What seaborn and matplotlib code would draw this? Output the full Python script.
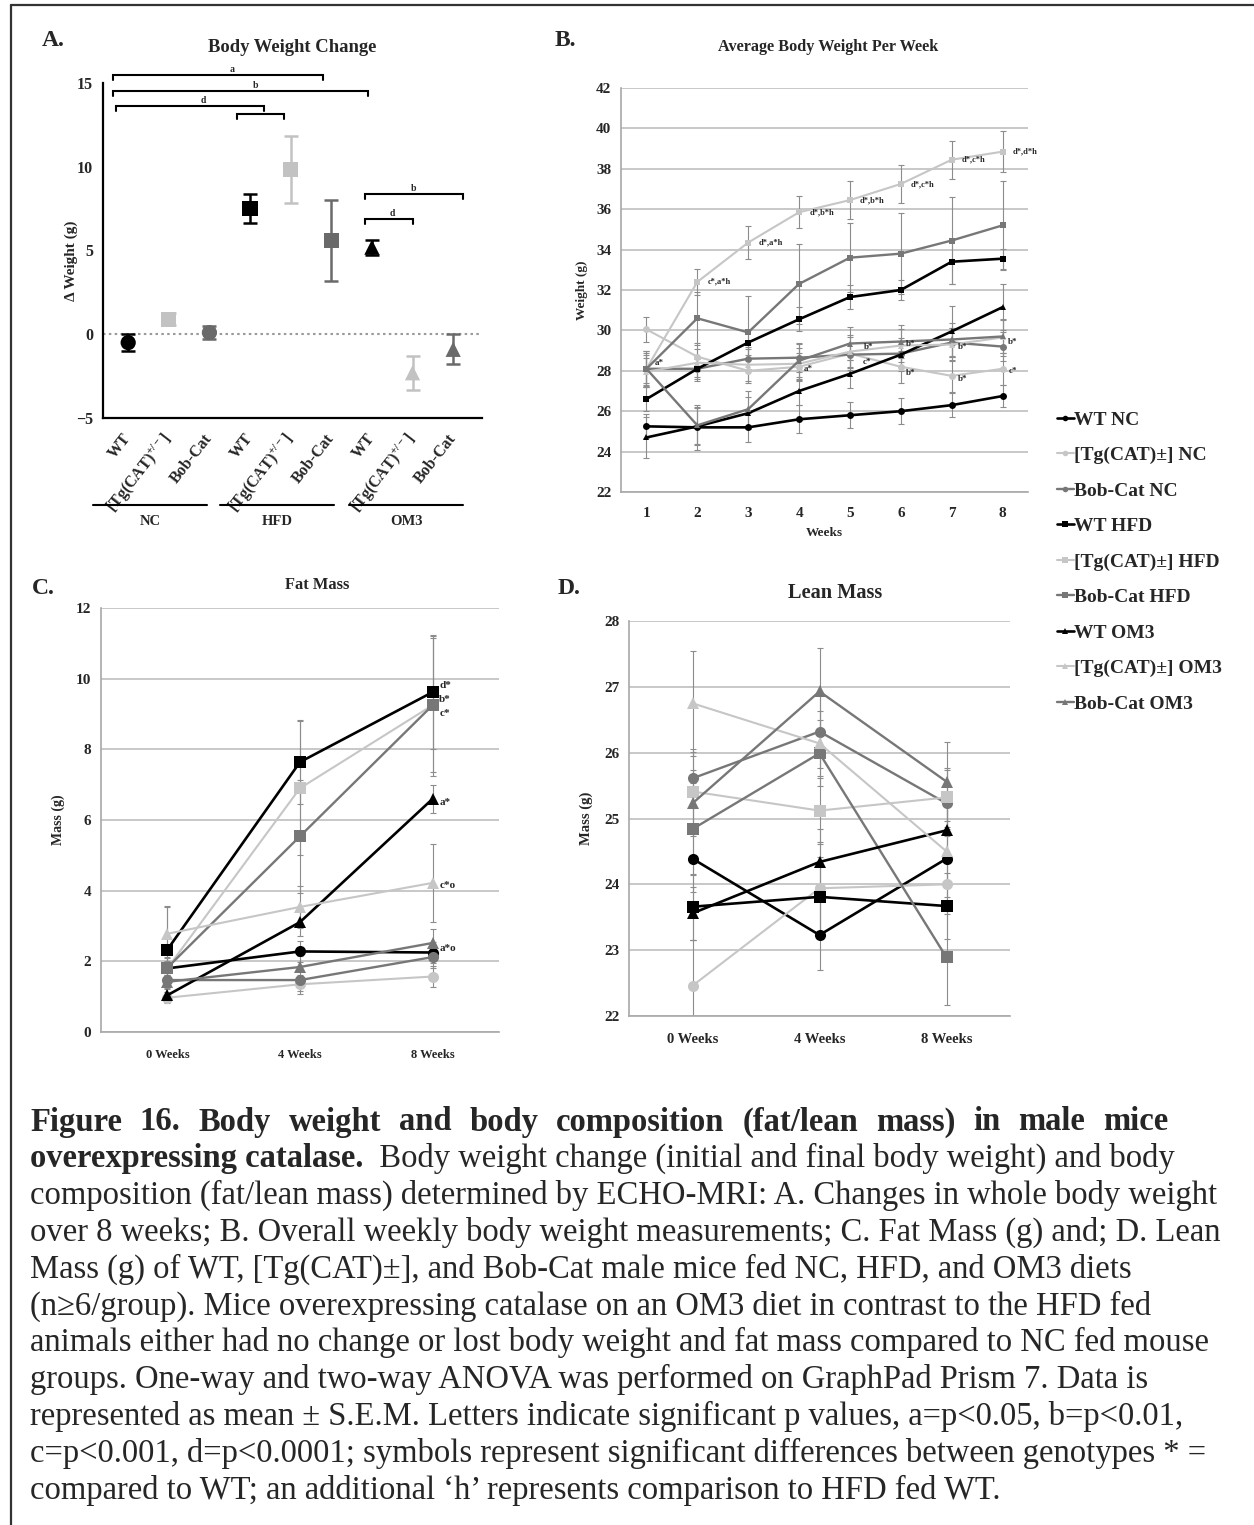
import numpy as np
import pandas as pd
import matplotlib
matplotlib.use("Agg")
import matplotlib.pyplot as plt
import seaborn as sns
from matplotlib.lines import Line2D
from matplotlib.transforms import blended_transform_factory

sns.set_theme(style="white")
SERIF = ["Liberation Serif", "DejaVu Serif"]
plt.rcParams["font.family"] = SERIF
plt.rcParams["font.weight"] = "bold"
plt.rcParams["axes.labelweight"] = "bold"
plt.rcParams["axes.titleweight"] = "bold"
plt.rcParams["mathtext.fontset"] = "custom"
plt.rcParams["mathtext.rm"] = "Liberation Serif:bold"
plt.rcParams["mathtext.bf"] = "Liberation Serif:bold"
plt.rcParams["mathtext.it"] = "Liberation Serif:bold:italic"

# ---------------------------------------------------------------- data
genotypes = ["WT", "Tg", "Bob"]
diets = ["NC", "HFD", "OM3"]
geno_tick_labels = ["WT", "[Tg(CAT)$^{+/-}$]", "Bob-Cat"]
geno_legend = {"WT": "WT", "Tg": "[Tg(CAT)±]", "Bob": "Bob-Cat"}

# A. change in body weight over 8 weeks (mean, SEM), order NC, HFD, OM3 x WT, Tg, Bob
delta_mean = [-0.5, 0.9, 0.1, 7.5, 9.85, 5.6, 5.2, -2.3, -0.9]
delta_sem = [0.5, 0.35, 0.4, 0.85, 2.0, 2.4, 0.45, 1.0, 0.9]
# significance brackets: start, end, height, letter, letter position
bracket_x1 = [-0.37, -0.37, -0.30, 2.68, 5.84, 5.84]
bracket_x2 = [4.80, 5.91, 3.35, 3.84, 8.23, 7.00]
bracket_y = [15.46, 14.50, 13.60, 13.13, 8.36, 6.87]
bracket_txt = ["a", "b", "d", "", "b", "d"]
bracket_txt_x = [2.56, 3.13, 1.85, 3.26, 7.02, 6.50]

# B. average body weight per week
weeks = [1, 2, 3, 4, 5, 6, 7, 8]
bw_wt_nc = [25.25, 25.2, 25.2, 25.6, 25.8, 26.0, 26.3, 26.75]
bw_tg_nc = [30.05, 28.7, 28.0, 28.2, 28.85, 28.2, 27.75, 28.1]
bw_bob_nc = [28.1, 28.1, 28.6, 28.65, 28.8, 28.85, 29.4, 29.2]
bw_wt_hfd = [26.6, 28.1, 29.4, 30.55, 31.65, 32.0, 33.4, 33.55]
bw_tg_hfd = [28.1, 32.4, 34.35, 35.85, 36.45, 37.25, 38.45, 38.85]
bw_bob_hfd = [28.1, 30.6, 29.9, 32.3, 33.6, 33.8, 34.45, 35.2]
bw_wt_om3 = [24.7, 25.25, 25.9, 27.0, 27.85, 28.8, 29.95, 31.15]
bw_tg_om3 = [27.95, 28.4, 28.3, 28.35, 28.95, 29.25, 29.3, 29.65]
bw_bob_om3 = [28.1, 25.3, 26.1, 28.5, 29.35, 29.45, 29.55, 29.7]

bw_err_wt_nc = [0.6, 1.1, 0.7, 0.7, 0.65, 0.65, 0.6, 0.55]
bw_err_tg_nc = [0.6, 0.7, 0.6, 0.7, 0.8, 0.8, 0.8, 0.8]
bw_err_bob_nc = [0.7, 0.6, 0.6, 0.7, 0.6, 0.6, 0.7, 0.7]
bw_err_wt_hfd = [0.6, 0.5, 0.6, 0.6, 0.6, 0.5, 1.1, 0.5]
bw_err_tg_hfd = [0.8, 0.65, 0.8, 0.8, 0.95, 0.95, 0.95, 1.0]
bw_err_bob_hfd = [0.9, 1.3, 1.8, 2.0, 1.7, 2.0, 2.15, 2.2]
bw_err_wt_om3 = [1.0, 0.9, 0.8, 0.7, 0.7, 0.8, 1.25, 1.15]
bw_err_tg_om3 = [0.7, 0.7, 0.8, 0.8, 0.8, 0.8, 0.8, 0.9]
bw_err_bob_om3 = [0.9, 0.9, 0.9, 0.9, 0.8, 0.8, 0.8, 0.8]

tg_hfd_notes = ["", "c*,a*h", "d*,a*h", "d*,b*h", "d*,b*h", "d*,c*h", "d*,c*h", "d*,d*h"]
b_notes_x = [1.26, 4.18, 5.34, 5.36, 6.19, 6.19, 7.21, 7.21, 8.20, 8.20]
b_notes_y = [28.4, 28.1, 28.45, 29.2, 29.35, 27.9, 29.2, 27.6, 29.45, 28.0]
b_notes_txt = ["a*", "a*", "c*", "b*", "b*", "b*", "b*", "b*", "b*", "c*"]

# C. fat mass and D. lean mass at 0, 4, 8 weeks
timepoints = ["0 Weeks", "4 Weeks", "8 Weeks"]
fat_wt_nc = [1.8, 2.28, 2.25]
fat_tg_nc = [0.97, 1.35, 1.57]
fat_bob_nc = [1.47, 1.47, 2.12]
fat_wt_hfd = [2.33, 7.64, 9.62]
fat_tg_hfd = [1.8, 6.9, 9.25]
fat_bob_hfd = [1.82, 5.54, 9.25]
fat_wt_om3 = [1.04, 3.11, 6.6]
fat_tg_om3 = [2.78, 3.54, 4.22]
fat_bob_om3 = [1.42, 1.84, 2.52]

fat_err_wt_nc = [0.2, 0.3, 0.3]
fat_err_tg_nc = [0.15, 0.27, 0.3]
fat_err_bob_nc = [0.2, 0.3, 0.3]
fat_err_wt_hfd = [1.2, 1.2, 1.6]
fat_err_tg_hfd = [0.3, 1.9, 2.0]
fat_err_bob_hfd = [0.3, 1.6, 1.9]
fat_err_wt_om3 = [0.2, 0.4, 0.4]
fat_err_tg_om3 = [0.8, 0.6, 1.1]
fat_err_bob_om3 = [0.2, 0.3, 0.4]

fat_notes_y = [9.82, 9.4, 9.0, 6.5, 4.15, 2.37]
fat_notes_txt = ["d*", "b*", "c*", "a*", "c*o", "a*o"]

lean_wt_nc = [24.39, 23.23, 24.39]
lean_tg_nc = [22.46, 23.94, 24.0]
lean_bob_nc = [25.61, 26.32, 25.23]
lean_wt_hfd = [23.66, 23.81, 23.67]
lean_tg_hfd = [25.41, 25.12, 25.32]
lean_bob_hfd = [24.84, 25.99, 22.89]
lean_wt_om3 = [23.56, 24.34, 24.82]
lean_tg_om3 = [26.75, 26.14, 24.5]
lean_bob_om3 = [25.23, 26.93, 25.56]

lean_err_wt_nc = [0.5, 0.53, 0.45]
lean_err_tg_nc = [0.7, 0.7, 0.45]
lean_err_bob_nc = [0.45, 0.55, 0.5]
lean_err_wt_hfd = [0.5, 0.6, 0.5]
lean_err_tg_hfd = [0.6, 0.5, 0.45]
lean_err_bob_hfd = [0.7, 0.5, 0.72]
lean_err_wt_om3 = [0.4, 0.5, 0.5]
lean_err_tg_om3 = [0.8, 0.5, 0.7]
lean_err_bob_om3 = [0.5, 0.66, 0.6]

caption_lines = [
    "Figure 16. Body weight and body composition (fat/lean mass) in male mice",
    "overexpressing catalase.",
    "composition (fat/lean mass) determined by ECHO-MRI: A. Changes in whole body weight",
    "over 8 weeks; B. Overall weekly body weight measurements; C. Fat Mass (g) and; D. Lean",
    "Mass (g) of WT, [Tg(CAT)±], and Bob-Cat male mice fed NC, HFD, and OM3 diets",
    "(n≥6/group). Mice overexpressing catalase on an OM3 diet in contrast to the HFD fed",
    "animals either had no change or lost body weight and fat mass compared to NC fed mouse",
    "groups. One-way and two-way ANOVA was performed on GraphPad Prism 7. Data is",
    "represented as mean ± S.E.M. Letters indicate significant p values, a=p<0.05, b=p<0.01,",
    "c=p<0.001, d=p<0.0001; symbols represent significant differences between genotypes * =",
    "compared to WT; an additional \u2018h\u2019 represents comparison to HFD fed WT.",
]
caption_line2_tail = "  Body weight change (initial and final body weight) and body"

# ---------------------------------------------------------------- styles
geno_color = {"WT": "#000000", "Tg": "#c6c6c6", "Bob": "#777777"}
geno_lw = {"WT": 1.9, "Tg": 1.5, "Bob": 1.7}
diet_marker = {"NC": "o", "HFD": "s", "OM3": "^"}


def key(g, d):
    return f"{geno_legend[g]} {d}"


series_order = [key(g, d) for d in diets for g in genotypes]
palette = {key(g, d): geno_color[g] for d in diets for g in genotypes}
markers = {key(g, d): diet_marker[d] for d in diets for g in genotypes}
sizes = {key(g, d): geno_lw[g] for d in diets for g in genotypes}


def long_frame(x, table, errs):
    rows = []
    for (g, d), vals in table.items():
        for xi, v, e in zip(x, vals, errs[(g, d)]):
            rows.append({"x": xi, "y": v, "err": e, "series": key(g, d), "geno": g})
    return pd.DataFrame(rows)


bw_table = {("WT", "NC"): bw_wt_nc, ("Tg", "NC"): bw_tg_nc, ("Bob", "NC"): bw_bob_nc,
            ("WT", "HFD"): bw_wt_hfd, ("Tg", "HFD"): bw_tg_hfd, ("Bob", "HFD"): bw_bob_hfd,
            ("WT", "OM3"): bw_wt_om3, ("Tg", "OM3"): bw_tg_om3, ("Bob", "OM3"): bw_bob_om3}
bw_errs = {("WT", "NC"): bw_err_wt_nc, ("Tg", "NC"): bw_err_tg_nc, ("Bob", "NC"): bw_err_bob_nc,
           ("WT", "HFD"): bw_err_wt_hfd, ("Tg", "HFD"): bw_err_tg_hfd, ("Bob", "HFD"): bw_err_bob_hfd,
           ("WT", "OM3"): bw_err_wt_om3, ("Tg", "OM3"): bw_err_tg_om3, ("Bob", "OM3"): bw_err_bob_om3}
fat_table = {("WT", "NC"): fat_wt_nc, ("Tg", "NC"): fat_tg_nc, ("Bob", "NC"): fat_bob_nc,
             ("WT", "HFD"): fat_wt_hfd, ("Tg", "HFD"): fat_tg_hfd, ("Bob", "HFD"): fat_bob_hfd,
             ("WT", "OM3"): fat_wt_om3, ("Tg", "OM3"): fat_tg_om3, ("Bob", "OM3"): fat_bob_om3}
fat_errs = {("WT", "NC"): fat_err_wt_nc, ("Tg", "NC"): fat_err_tg_nc, ("Bob", "NC"): fat_err_bob_nc,
            ("WT", "HFD"): fat_err_wt_hfd, ("Tg", "HFD"): fat_err_tg_hfd, ("Bob", "HFD"): fat_err_bob_hfd,
            ("WT", "OM3"): fat_err_wt_om3, ("Tg", "OM3"): fat_err_tg_om3, ("Bob", "OM3"): fat_err_bob_om3}
lean_table = {("WT", "NC"): lean_wt_nc, ("Tg", "NC"): lean_tg_nc, ("Bob", "NC"): lean_bob_nc,
              ("WT", "HFD"): lean_wt_hfd, ("Tg", "HFD"): lean_tg_hfd, ("Bob", "HFD"): lean_bob_hfd,
              ("WT", "OM3"): lean_wt_om3, ("Tg", "OM3"): lean_tg_om3, ("Bob", "OM3"): lean_bob_om3}
lean_errs = {("WT", "NC"): lean_err_wt_nc, ("Tg", "NC"): lean_err_tg_nc, ("Bob", "NC"): lean_err_bob_nc,
             ("WT", "HFD"): lean_err_wt_hfd, ("Tg", "HFD"): lean_err_tg_hfd, ("Bob", "HFD"): lean_err_bob_hfd,
             ("WT", "OM3"): lean_err_wt_om3, ("Tg", "OM3"): lean_err_tg_om3, ("Bob", "OM3"): lean_err_bob_om3}

# ---------------------------------------------------------------- figure
W, H = 1254, 1525
fig = plt.figure(figsize=(W / 100, H / 100), dpi=100)


def px_axes(left, top, right, bottom):
    return fig.add_axes([left / W, 1 - bottom / H, (right - left) / W, (bottom - top) / H])


def ftext(x, y, s, **kw):
    return fig.text(x / W, 1 - y / H, s, **kw)


# page frame (top and left edges)
fig.add_artist(Line2D([11 / W, 11 / W], [0, 1 - 5 / H], color="#333333", lw=1.6))
fig.add_artist(Line2D([11 / W, 1], [1 - 5 / H, 1 - 5 / H], color="#333333", lw=1.6))

GRID = "#c4c4c4"
SPINE = "#a8a8a8"
ERR = "#8c8c8c"


def excel_axes(ax):
    for s in ["top", "right"]:
        ax.spines[s].set_visible(False)
    for s in ["left", "bottom"]:
        ax.spines[s].set_color(SPINE)
        ax.spines[s].set_linewidth(1.2)
    ax.yaxis.grid(True, color=GRID, lw=1.3)
    ax.xaxis.grid(False)
    ax.set_axisbelow(True)
    ax.tick_params(axis="y", which="major", length=4, width=1, color=SPINE, direction="out", pad=3)
    ax.tick_params(axis="x", which="major", length=0, pad=6)
    ax.tick_params(axis="x", which="minor", length=4, width=1, color=SPINE, direction="out")


def draw_series(ax, df, ms):
    for s in series_order:
        sub = df[df["series"] == s]
        ax.errorbar(sub["x"], sub["y"], yerr=sub["err"], fmt="none", ecolor=ERR,
                    elinewidth=0.8, capsize=2, capthick=0.8, zorder=1)
    sns.lineplot(data=df, x="x", y="y", hue="series", hue_order=series_order, palette=palette,
                 style="series", style_order=series_order, markers=markers, dashes=False,
                 size="series", size_order=series_order, sizes=sizes,
                 markersize=ms, markeredgewidth=0, legend=False, ax=ax, zorder=3)


# ---------------------------------------------------------------- A
axA = px_axes(103, 83, 482, 418)
posA = list(range(9))
dfA = pd.DataFrame({
    "pos": posA,
    "mean": delta_mean,
    "sem": delta_sem,
    "geno": genotypes * 3,
    "diet": [d for d in diets for _ in genotypes],
})
dfA["series"] = [key(g, d) for g, d in zip(dfA["geno"], dfA["diet"])]
a_colors = {"WT": "#000000", "Tg": "#c2c2c2", "Bob": "#6a6a6a"}
a_markers = {key(g, d): diet_marker[d] for d in diets for g in genotypes}
a_markers[key("Tg", "NC")] = "s"
for _, r in dfA.iterrows():
    axA.errorbar(r["pos"], r["mean"], yerr=r["sem"], fmt="none", ecolor=a_colors[r["geno"]],
                 elinewidth=1.8, capsize=5, capthick=1.8, zorder=2)
sns.scatterplot(data=dfA, x="pos", y="mean", hue="series", hue_order=series_order,
                palette={key(g, d): a_colors[g] for d in diets for g in genotypes},
                style="series", style_order=series_order, markers=a_markers,
                s=120, linewidth=0, legend=False, ax=axA, zorder=3)
axA.axhline(0, color="#9a9a9a", lw=1.5, ls=(0, (1.2, 1.6)), zorder=1)
axA.set_xlim(-0.62, 8.71)
axA.set_ylim(-5, 15)
axA.set_yticks([-5, 0, 5, 10, 15])
axA.set_xticks(posA)
axA.set_xticklabels(geno_tick_labels * 3, rotation=52, ha="right", va="center",
                    rotation_mode="anchor", fontsize=11.5)
axA.tick_params(axis="x", length=5, width=1.5, color="black", pad=8)
axA.tick_params(axis="y", length=5, width=1.5, color="black", labelsize=11.5, pad=2)
for s in ["top", "right"]:
    axA.spines[s].set_visible(False)
for s in ["left", "bottom"]:
    axA.spines[s].set_color("black")
    axA.spines[s].set_linewidth(1.6)
axA.set_xlabel("")
axA.set_ylabel("Δ Weight (g)", fontsize=11, labelpad=4)
axA.yaxis.set_label_coords(-0.065, 0.47)

for x1, x2, yb, t, tx in zip(bracket_x1, bracket_x2, bracket_y, bracket_txt, bracket_txt_x):
    axA.plot([x1, x1, x2, x2], [yb - 0.3, yb, yb, yb - 0.3], color="black", lw=1.5,
             clip_on=False, solid_joinstyle="miter")
    if t:
        axA.text(tx, yb + 0.08, t, ha="center", va="bottom", fontsize=7)

tr = blended_transform_factory(axA.transData, axA.transAxes)
group_lines = [(-0.86, 1.94), (2.27, 5.07), (5.44, 8.25)]
for (g0, g1), d in zip(group_lines, diets):
    axA.plot([g0, g1], [-0.26, -0.26], color="black", lw=1.5, transform=tr, clip_on=False)
    axA.text((g0 + g1) / 2, -0.31, d, transform=tr, ha="center", va="center", fontsize=10.5)

ftext(42, 40, "A.", fontsize=17, ha="left", va="center")
ftext(292, 47, "Body Weight Change", fontsize=13.4, ha="center", va="center")

# ---------------------------------------------------------------- B
axB = px_axes(621, 88, 1028, 492)
dfB = long_frame(weeks, bw_table, bw_errs)
draw_series(axB, dfB, ms=5)
excel_axes(axB)
axB.set_xlim(0.5, 8.5)
axB.set_ylim(22, 42)
axB.set_yticks(np.arange(22, 43, 2))
axB.set_xticks(weeks)
axB.set_xticks(np.arange(1.5, 8.5, 1), minor=True)
axB.tick_params(labelsize=11)
axB.tick_params(axis="x", which="major", pad=11)
axB.set_xlabel("Weeks", fontsize=9.5, labelpad=5)
axB.set_ylabel("Weight (g)", fontsize=9.5, labelpad=6)
for w, y, t in zip(weeks, bw_tg_hfd, tg_hfd_notes):
    if t:
        axB.text(w + 0.2, y, t, fontsize=6, ha="left", va="center")
for x, y, t in zip(b_notes_x, b_notes_y, b_notes_txt):
    axB.text(x, y, t, fontsize=6.5, ha="center", va="center")
ftext(555, 40, "B.", fontsize=17, ha="left", va="center")
ftext(828, 47, "Average Body Weight Per Week", fontsize=11.7, ha="center", va="center")

# ---------------------------------------------------------------- C
axC = px_axes(101, 608, 499, 1032)
dfC = long_frame([0, 1, 2], fat_table, fat_errs)
draw_series(axC, dfC, ms=8)
excel_axes(axC)
axC.set_xlim(-0.5, 2.5)
axC.set_ylim(0, 12)
axC.set_yticks(np.arange(0, 13, 2))
axC.set_xticks([0, 1, 2])
axC.set_xticklabels(timepoints, fontsize=9)
axC.set_xticks([0.5, 1.5], minor=True)
axC.tick_params(axis="y", labelsize=11)
axC.tick_params(axis="x", pad=12)
axC.set_xlabel("")
axC.set_ylabel("Mass (g)", fontsize=10, labelpad=8)
for y, t in zip(fat_notes_y, fat_notes_txt):
    axC.text(2.05, y, t, fontsize=8, ha="left", va="center")
ftext(32, 588, "C.", fontsize=17, ha="left", va="center")
ftext(317, 585, "Fat Mass", fontsize=11.8, ha="center", va="center")

# ---------------------------------------------------------------- D
axD = px_axes(629, 621, 1010, 1016)
dfD = long_frame([0, 1, 2], lean_table, lean_errs)
draw_series(axD, dfD, ms=8)
excel_axes(axD)
axD.set_xlim(-0.5, 2.5)
axD.set_ylim(22, 28)
axD.set_yticks(np.arange(22, 29, 1))
axD.set_xticks([0, 1, 2])
axD.set_xticklabels(timepoints, fontsize=10.5)
axD.set_xticks([0.5, 1.5], minor=True)
axD.tick_params(axis="y", labelsize=11)
axD.tick_params(axis="x", pad=12)
axD.set_xlabel("")
axD.set_ylabel("Mass (g)", fontsize=10.5, labelpad=8)
ftext(558, 588, "D.", fontsize=17, ha="left", va="center")
ftext(835, 593, "Lean Mass", fontsize=14.7, ha="center", va="center")

# ---------------------------------------------------------------- legend
handles = []
for d in diets:
    for g in genotypes:
        handles.append(Line2D([], [], color=geno_color[g], lw=geno_lw[g], marker=diet_marker[d],
                              markersize=4, markeredgewidth=0))
fig.legend(handles, series_order, loc="upper left", bbox_to_anchor=(1057 / W, 1 - 411 / H),
           frameon=False, fontsize=14, handlelength=0.85, handletextpad=0.05,
           labelspacing=0.92, borderaxespad=0, borderpad=0)

# ---------------------------------------------------------------- caption
CAP = 23.5
cap_x, cap_y0, cap_dy = 30, 1122, 36.8
cap_right = 1168
renderer = fig.canvas.get_renderer()

# first (bold) line is set flush to both margins
words = caption_lines[0].split(" ")
word_artists = [ftext(cap_x, cap_y0, w, fontsize=CAP, fontweight="bold", ha="left", va="center")
                for w in words]
widths = [a.get_window_extent(renderer).width for a in word_artists]
gap = (cap_right - cap_x - sum(widths)) / (len(words) - 1)
xpos = cap_x
for a, wd in zip(word_artists, widths):
    a.set_x(xpos / W)
    xpos += wd + gap

head = ftext(cap_x, cap_y0 + cap_dy, caption_lines[1], fontsize=CAP, fontweight="bold",
             ha="left", va="center")
bb = head.get_window_extent(renderer)
fig.text(bb.x1 / W, 1 - (cap_y0 + cap_dy) / H, caption_line2_tail, fontsize=CAP,
         fontweight="normal", ha="left", va="center")
for i, line in enumerate(caption_lines[2:], start=2):
    ftext(cap_x, cap_y0 + i * cap_dy, line, fontsize=CAP, fontweight="normal", ha="left", va="center")

fig.savefig("out.png", dpi=100, facecolor="white")
